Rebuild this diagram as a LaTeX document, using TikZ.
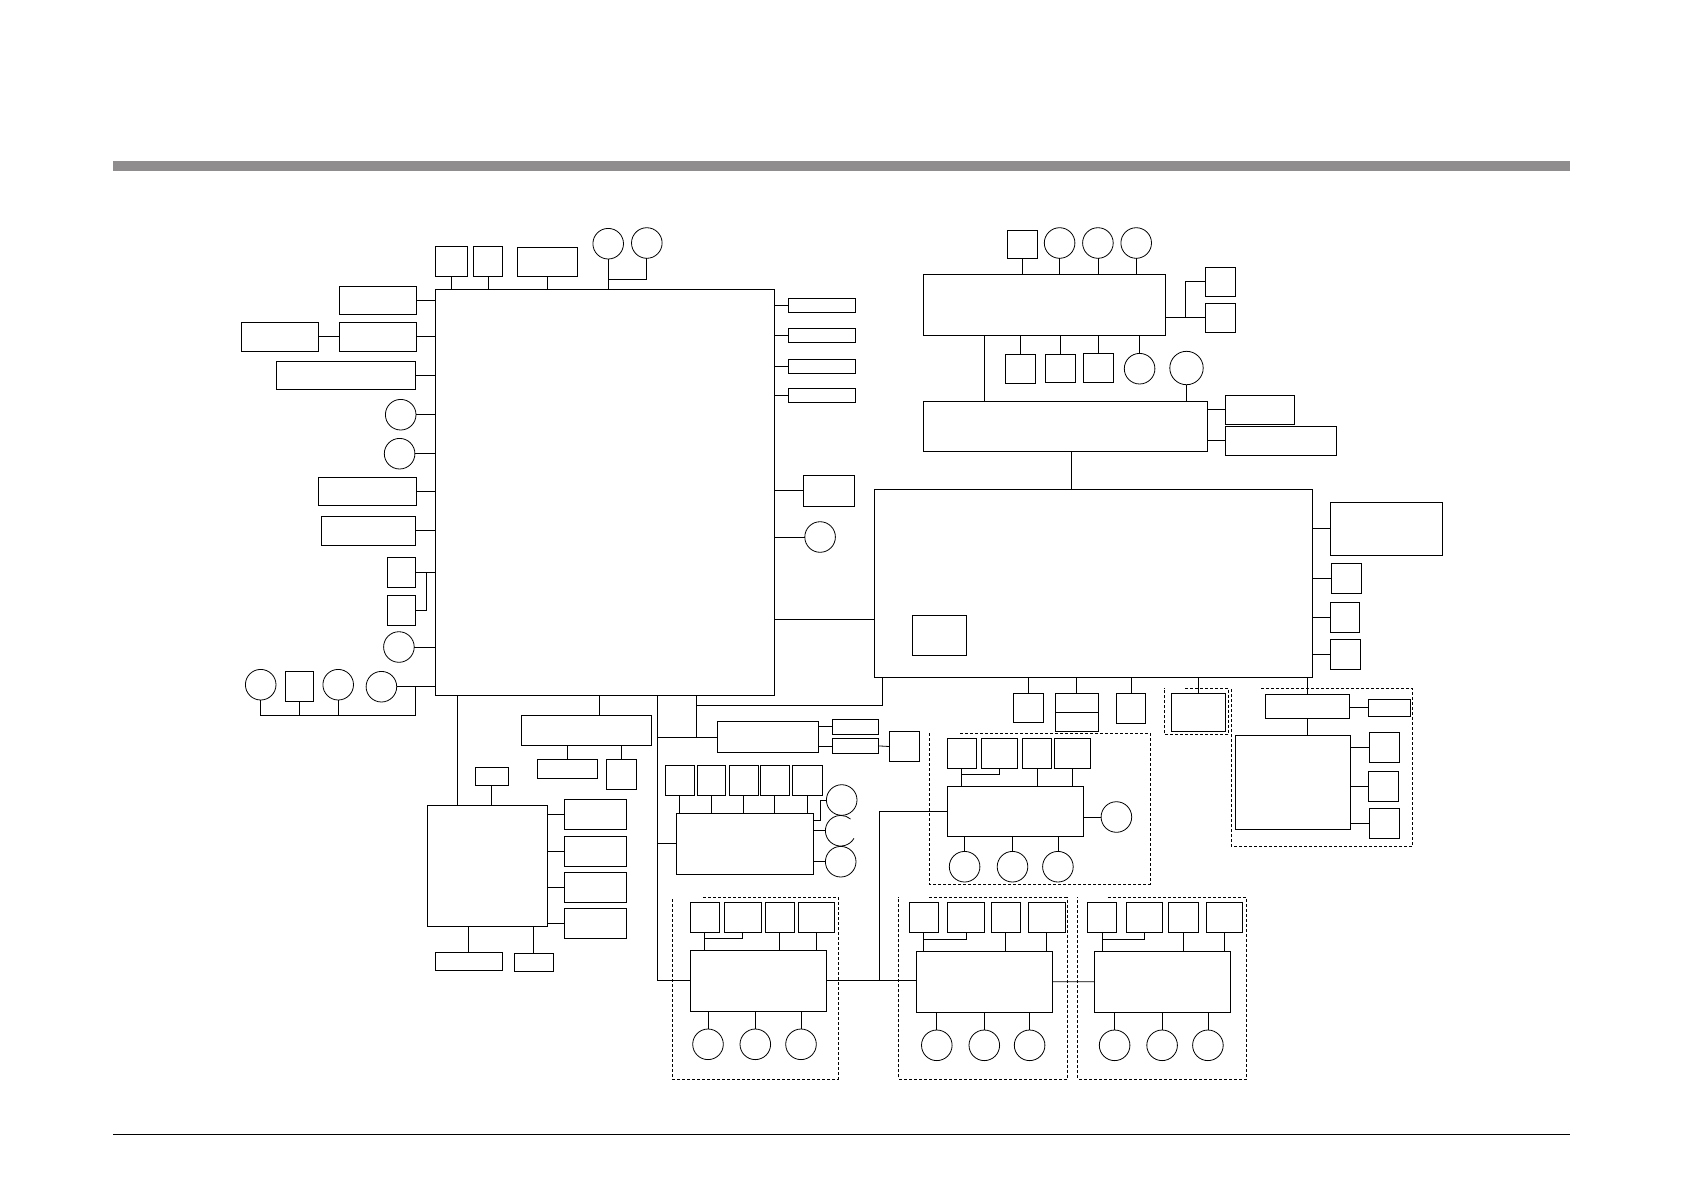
\documentclass[tikz,border=0pt]{standalone}
\usetikzlibrary{calc}
\definecolor{barGray}{RGB}{143,141,142}
\tikzset{
  bx/.style={draw, rectangle, inner sep=0pt, outer sep=0pt},
  sz/.style 2 args={minimum width=#1pt, minimum height=#2pt},
  rnd/.style={draw, circle, inner sep=0pt, outer sep=0pt, minimum size=30.6pt},
  grp/.style={dash pattern=on 3pt off 2pt},
}
\begin{document}
\begin{tikzpicture}[x=1pt, y=-1pt, line width=0.8pt]
\useasboundingbox (0,0) rectangle (1685,1192);

% header bar and footer rule
\fill[barGray] (113,161) rectangle (1570,171);
\draw (113,1134) -- (1570,1134);

% processor
\node[bx, sz={339}{406}] (cpu) at (605,492.5) {};

% top of processor
\node[bx, sz={32}{30}] (t1) at (451.5,261.3) {};
\node[bx, sz={29}{30}] (t2) at (487.9,261.5) {};
\node[bx, sz={60}{29}] (t3) at (547.5,261.8) {};
\node[rnd] (c1) at (608.2,243.7) {};
\node[rnd] (c2) at (646.8,243) {};
\foreach \n in {t1,t2,t3,c1}
  \draw (\n.south) -- (\n |- cpu.north);
\coordinate (j1) at (608.2,279.3);
\draw (c2.south) |- (j1);

% left of processor
\node[bx, sz={77}{28}] (l1) at (377.9,300.3) {};
\node[bx, sz={77}{29}] (l2a) at (279.8,336.8) {};
\node[bx, sz={77}{29}] (l2b) at (377.9,336.8) {};
\node[bx, sz={139}{28}] (l3) at (346,375.3) {};
\node[rnd] (l4) at (400.7,414.7) {};
\node[rnd] (l5) at (399.6,453.7) {};
\node[bx, sz={98}{28}] (l6) at (367.3,491.3) {};
\node[bx, sz={94}{29}] (l7) at (368.8,530.8) {};
\node[bx, sz={28}{30}] (l8a) at (401.6,572.3) {};
\node[bx, sz={28}{30}] (l8b) at (401.6,610.3) {};
\node[rnd] (l9) at (398.9,647) {};
\foreach \n in {l1,l2b,l3,l4,l5,l6,l7,l8a,l9}
  \draw (\n.east) -- (\n.east -| cpu.west);
\draw (l2a.east) -- (l2b.west);
\coordinate (j2) at (426,572.3);
\draw (l8b.east) -| (j2);

% bottom left row
\node[rnd] (ba) at (260.7,684.7) {};
\node[bx, sz={28}{30}] (bb) at (299.3,686.5) {};
\node[rnd] (bc) at (338.2,684.7) {};
\node[rnd] (bd) at (381.4,686.7) {};
\coordinate (j3) at (415.7,715.3);
\draw (bd.east) -- (bd.east -| cpu.west);
\draw (ba.south) |- (j3) -- (j3 |- bd.east);
\foreach \n in {bb,bc}
  \draw (\n.south) -- (\n |- j3);

% right of processor
\node[bx, sz={67}{14}] (r1) at (821.8,305.3) {};
\node[bx, sz={67}{14}] (r2) at (821.8,335.3) {};
\node[bx, sz={67}{14}] (r3) at (821.8,366.3) {};
\node[bx, sz={67}{14}] (r4) at (821.8,395.3) {};
\node[bx, sz={51}{31}] (r5) at (828.9,490.8) {};
\node[rnd] (r6) at (820.1,537) {};
\foreach \n in {r1,r2,r3,r4,r5,r6}
  \draw (\n.west) -- (\n.west -| cpu.east);

% system block
\node[bx, sz={438}{188}] (sys) at (1093.5,583.3) {};
\node[bx, sz={54}{40}] (sysin) at (939.5,635.3) {};
\draw (sys.south west) ++(0,-58) coordinate (j4) -- (j4 -| cpu.east);

% upper blocks
\node[bx, sz={242}{61}] (tb1) at (1044.3,304.8) {};
\node[bx, sz={284}{50}] (tb2) at (1065.4,426.3) {};
\node[bx, sz={30}{28}] (tq) at (1022.3,244.3) {};
\node[rnd] (tc1) at (1059.6,243) {};
\node[rnd] (tc2) at (1097.9,243) {};
\node[rnd] (tc3) at (1136.2,243) {};
\foreach \n in {tq,tc1,tc2,tc3}
  \draw (\n.south) -- (\n |- tb1.north);
\node[bx, sz={30}{29}] (tr1) at (1220.4,281.8) {};
\node[bx, sz={30}{29}] (tr2) at (1220.4,317.8) {};
\draw (tr2.west) -- (tr2.west -| tb1.east);
\coordinate (j5) at (1185.5,317.8);
\draw (tr1.west) -| (j5);
\node[bx, sz={30}{29}] (bq1) at (1020.2,368.8) {};
\node[bx, sz={30}{28}] (bq2) at (1060.4,368.3) {};
\node[bx, sz={30}{29}] (bq3) at (1098.3,367.8) {};
\node[rnd] (bc4) at (1139.6,368.7) {};
\node[rnd, minimum size=33.4pt] (bc5) at (1186.5,368) {};
\foreach \n in {bq1,bq2,bq3,bc4}
  \draw (\n.north) -- (\n |- tb1.south);
\draw (bc5.south) -- (bc5 |- tb2.north);
\draw (tb1.south west) ++(61,0) coordinate (j6) -- (j6 |- tb2.north);
\node[bx, sz={69}{29}] (ts1) at (1260,409.8) {};
\node[bx, sz={111}{29}] (ts2) at (1280.8,440.8) {};
\foreach \n in {ts1,ts2}
  \draw (\n.west) -- (\n.west -| tb2.east);
\draw (tb2.south) ++(6,0) coordinate (j7) -- (j7 |- sys.north);

% right of system block
\node[bx, sz={112}{53}] (br1) at (1386.5,528.8) {};
\node[bx, sz={30}{30}] (br2) at (1346.2,578.3) {};
\node[bx, sz={29}{30}] (br3) at (1345,617.2) {};
\node[bx, sz={30}{30}] (br4) at (1345.5,654.3) {};
\foreach \n in {br1,br2,br3,br4}
  \draw (\n.west) -- (\n.west -| sys.east);

% below system block
\node[bx, sz={30}{29}] (u1) at (1028.2,708) {};
\node[bx, sz={43}{38}] (u2) at (1076.8,712.3) {};
\node[bx, sz={29}{30}] (u3) at (1130.9,708.3) {};
\node[bx, sz={54}{38}] (u4) at (1198.4,712.3) {};
\draw (u2.west) -- (u2.east);
\foreach \n in {u1,u2,u3,u4}
  \draw (\n.north) -- (\n |- sys.south);
\draw[grp] (1185,688.3) -| (1228.7,734.3) -| (1164.3,688.3);

% group R
\node[bx, sz={84}{24}] (rt) at (1307.4,706.3) {};
\node[bx, sz={42}{17}] (rts) at (1389.3,707.7) {};
\node[bx, sz={115}{94}] (rb) at (1292.9,782.3) {};
\node[bx, sz={30}{30}] (rr1) at (1384.1,747.3) {};
\node[bx, sz={30}{30}] (rr2) at (1383.3,786.3) {};
\node[bx, sz={30}{30}] (rr3) at (1384.3,823.5) {};
\draw (rt.north) -- (rt |- sys.south);
\draw (rt.south) -- (rt |- rb.north);
\draw (rts.west) -- (rts.west -| rt.east);
\foreach \n in {rr1,rr2,rr3}
  \draw (\n.west) -- (\n.west -| rb.east);
\draw[grp] (1261,688.3) -| (1412.3,846.7) -| (1231.3,688.3);

% below processor
\node[bx, sz={130}{30}] (m1) at (586,730.5) {};
\node[bx, sz={60}{19}] (m1a) at (567.3,768.8) {};
\node[bx, sz={30}{30}] (m1b) at (621.3,774.3) {};
\draw (m1.north) ++(13,0) coordinate (j8) -- (j8 |- cpu.south);
\foreach \n in {m1a,m1b}
  \draw (\n.north) -- (\n |- m1.south);

% lower left block
\node[bx, sz={120}{121}] (lb) at (487.5,866) {};
\node[bx, sz={33}{18}] (lbt) at (491.8,776.3) {};
\draw (lbt.south) -- (lbt |- lb.north);
\draw (lb.north west) ++(30,0) coordinate (j9) -- (j9 |- cpu.south);
\node[bx, sz={62}{30}] (lbr1) at (595.3,814.3) {};
\node[bx, sz={62}{30}] (lbr2) at (595.3,851.3) {};
\node[bx, sz={62}{30}] (lbr3) at (595.3,887.3) {};
\node[bx, sz={62}{30}] (lbr4) at (595.3,923.3) {};
\foreach \n in {lbr1,lbr2,lbr3,lbr4}
  \draw (\n.west) -- (\n.west -| lb.east);
\node[bx, sz={67}{18}] (lbb1) at (468.8,961.3) {};
\node[bx, sz={39}{18}] (lbb2) at (533.8,962.3) {};
\foreach \n in {lbb1,lbb2}
  \draw (\n.north) -- (\n |- lb.south);

% bus
\coordinate (bus) at (657.3,980.8);
\coordinate (k1) at (696.3,705.3);
\coordinate (k2) at (882.4,705.3);
\draw (bus |- cpu.south) -- (bus);
\draw (k1 |- cpu.south) -- (k1) -- (k2) -- (k2 |- sys.south);

% block N1
\node[bx, sz={101}{31}] (n1) at (767.8,737) {};
\node[bx, sz={46.5}{15}] (n1a) at (855.3,726.8) {};
\node[bx, sz={46.5}{15}] (n1b) at (855.3,745.9) {};
\node[bx, sz={30}{29.5}] (n1c) at (904.3,746.5) {};
\draw (bus |- n1.west) -- (n1.west);
\draw (k1) -- (k1 |- n1.west);
\foreach \n in {n1a,n1b}
  \draw (\n.west) -- (\n.west -| n1.east);
\draw (n1b.east) -- (n1c.west);

% block N2
\node[bx, sz={137}{61}] (n2) at (744.8,843.8) {};
\node[bx, sz={29}{30}] (na) at (679.5,780.3) {};
\node[bx, sz={28}{30}] (nb) at (711.3,780.3) {};
\node[bx, sz={29}{30}] (nc) at (743.8,780.3) {};
\node[bx, sz={29}{30}] (nd) at (774.8,780.3) {};
\node[bx, sz={30}{30}] (ne) at (807.2,780.3) {};
\foreach \n in {na,nb,nc,nd,ne}
  \draw (\n.south) -- (\n |- n2.north);
\draw (bus |- n2.west) -- (n2.west);
\node[rnd] (nc1) at (841.7,800) {};
\node[rnd, draw=none] (nc2) at (840.7,830.7) {};
\node[rnd] (nc3) at (840.7,861.7) {};
\draw ([shift={(30:15.3)}]nc2.center) arc[start angle=30, end angle=310, radius=15.3];
\coordinate (j10) at (820,820.7);
\draw (nc1.west) -| (j10) -- (j10 -| n2.east);
\foreach \n in {nc2,nc3}
  \draw (\n.west) -- (\n.west -| n2.east);

% group P
\node[bx, sz={29}{30}] (pa) at (704.8,917.3) {};
\node[bx, sz={37}{30}] (pb) at (742.7,917.3) {};
\node[bx, sz={29}{30}] (pc) at (779.8,917.3) {};
\node[bx, sz={36}{30}] (pd) at (815.9,917.3) {};
\node[bx, sz={136}{61}] (pbody) at (758.3,980.8) {};
\node[rnd] (pc1) at (708,1044.3) {};
\node[rnd] (pc2) at (755.3,1044.3) {};
\node[rnd] (pc3) at (801,1044.3) {};
\foreach \n in {pa,pc,pd}
  \draw (\n.south) -- (\n |- pbody.north);
\draw (pb.south) -- ++(0,6.4) -| (pa.south);
\foreach \n in {pc1,pc2,pc3}
  \draw (\n.north) -- (\n |- pbody.south);
\draw (bus) -- (pbody.west);
\draw[grp] (703.3,897.3) -| (838.3,1079) -| (672.3,897.3);

% group Q
\node[bx, sz={29}{30}] (qa) at (961.8,753.3) {};
\node[bx, sz={36}{30}] (qb) at (999.5,753.3) {};
\node[bx, sz={29}{30}] (qc) at (1037,753.3) {};
\node[bx, sz={36}{30}] (qd) at (1072.5,753.3) {};
\node[bx, sz={136}{50}] (qbody) at (1015.2,811.3) {};
\node[rnd] (qr) at (1116.4,817) {};
\node[rnd] (qc1) at (964.6,866.7) {};
\node[rnd] (qc2) at (1012.5,866.7) {};
\node[rnd] (qc3) at (1057.9,866.7) {};
\foreach \n in {qa,qc,qd}
  \draw (\n.south) -- (\n |- qbody.north);
\draw (qb.south) -- ++(0,6.4) -| (qa.south);
\foreach \n in {qc1,qc2,qc3}
  \draw (\n.north) -- (\n |- qbody.south);
\draw (qr.west) -- (qr.west -| qbody.east);
\draw[grp] (960.4,733.3) -| (1150.4,884) -| (929.3,733.3);

% group S
\node[bx, sz={29}{30}] (sa) at (923.6,917.8) {};
\node[bx, sz={37}{30}] (sb) at (965.9,917.8) {};
\node[bx, sz={29}{30}] (sc) at (1005.8,917.8) {};
\node[bx, sz={37}{30}] (sd) at (1046.6,917.8) {};
\node[bx, sz={136}{61}] (sbody) at (984.5,981.7) {};
\node[rnd] (sc1) at (936.8,1045.3) {};
\node[rnd] (sc2) at (984.3,1045.3) {};
\node[rnd] (sc3) at (1029.6,1045.3) {};
\foreach \n in {sa,sc,sd}
  \draw (\n.south) -- (\n |- sbody.north);
\draw (sb.south) -- ++(0,6.4) -| (sa.south);
\foreach \n in {sc1,sc2,sc3}
  \draw (\n.north) -- (\n |- sbody.south);
\draw[grp] (929.3,897.3) -| (1067.1,1079) -| (898.2,897.3);

% group V
\node[bx, sz={29}{30}] (va) at (1102,917.8) {};
\node[bx, sz={36}{30}] (vb) at (1143.9,917.8) {};
\node[bx, sz={30}{30}] (vc) at (1183.4,917.8) {};
\node[bx, sz={36}{30}] (vd) at (1224.7,917.8) {};
\node[bx, sz={136}{61}] (vbody) at (1162.4,981.8) {};
\node[rnd] (vc1) at (1114.6,1045.3) {};
\node[rnd] (vc2) at (1162.1,1045.3) {};
\node[rnd] (vc3) at (1207.9,1045.3) {};
\foreach \n in {va,vc,vd}
  \draw (\n.south) -- (\n |- vbody.north);
\draw (vb.south) -- ++(0,6.4) -| (va.south);
\foreach \n in {vc1,vc2,vc3}
  \draw (\n.north) -- (\n |- vbody.south);
\draw[grp] (1107.9,897.3) -| (1246.4,1079) -| (1077.5,897.3);

% links between groups
\draw (pbody.east) -- (sbody.west |- pbody.east);
\draw (sbody.east) -- (vbody.west);
\coordinate (j11) at (879.3,980.8);
\draw (j11) |- (qbody.west);

\end{tikzpicture}
\end{document}
